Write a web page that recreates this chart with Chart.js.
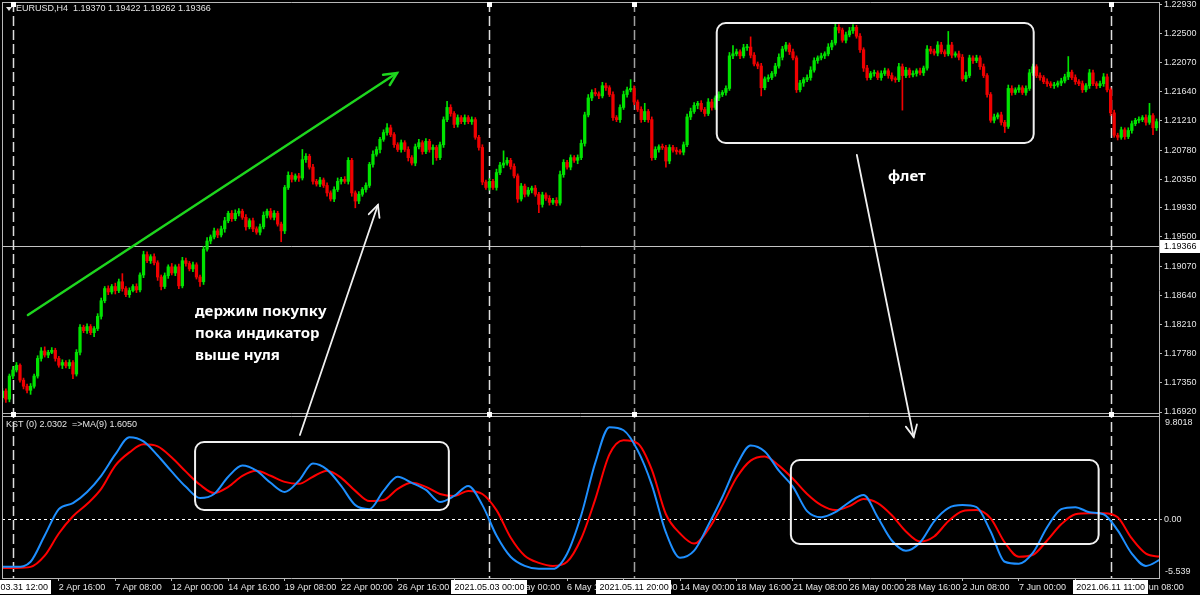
<!DOCTYPE html>
<html>
<head>
<meta charset="utf-8">
<script src="https://cdn.jsdelivr.net/npm/chart.js@4.4.1/dist/chart.umd.min.js"></script>
<style>
  html, body { margin: 0; padding: 0; background: #000; }
  #chart { display: block; }
</style>
</head>
<body>
<canvas id="chart" width="1200" height="595"></canvas>
<script>
// ---- data (EURUSD H4, bar index 0 = 2021.03.31 00:00) ----
var symbolTitle = 'EURUSD,H4  1.19370 1.19422 1.19262 1.19366';
var kstTitle = 'KST (0) 2.0302  =>MA(9) 1.6050';
var bidPrice = 1.19366;
var pip = 0.0001;

var firstOpen = 1.1713;
var closes = [
  1.1723,1.1711,1.1745,1.1754,1.1761,1.1739,1.1730,1.1724,1.1730,1.1745,
  1.1771,1.1782,1.1776,1.1780,1.1783,1.1771,1.1761,1.1765,1.1760,1.1765,
  1.1748,1.1780,1.1817,1.1812,1.1818,1.1809,1.1815,1.1833,1.1856,1.1874,
  1.1869,1.1877,1.1871,1.1884,1.1874,1.1865,1.1871,1.1877,1.1872,1.1894,
  1.1924,1.1915,1.1921,1.1912,1.1891,1.1877,1.1893,1.1906,1.1897,1.1906,
  1.1878,1.1915,1.1911,1.1903,1.1909,1.1891,1.1884,1.1932,1.1944,1.1950,
  1.1959,1.1953,1.1962,1.1974,1.1985,1.1977,1.1985,1.1988,1.1979,1.1965,
  1.1974,1.1962,1.1957,1.1965,1.1982,1.1988,1.1979,1.1985,1.1969,1.1959,
  1.2023,1.2041,1.2035,1.2040,1.2037,1.2064,1.2069,1.2053,1.2032,1.2028,
  1.2034,1.2026,1.2015,1.2006,1.2020,1.2032,1.2035,1.2032,1.2063,1.2015,
  1.2003,1.2013,1.2020,1.2026,1.2057,1.2072,1.2079,1.2094,1.2104,1.2111,
  1.2101,1.2086,1.2079,1.2089,1.2079,1.2067,1.2059,1.2083,1.2089,1.2076,
  1.2091,1.2079,1.2082,1.2067,1.2086,1.2123,1.2141,1.2132,1.2116,1.2126,
  1.2120,1.2126,1.2120,1.2123,1.2097,1.2082,1.2031,1.2023,1.2032,1.2023,
  1.2045,1.2056,1.2059,1.2063,1.2054,1.2040,1.2006,1.2025,1.2013,1.2019,
  1.2022,1.2013,1.1998,1.2012,1.2007,1.2001,1.2004,1.2000,1.2042,1.2060,
  1.2053,1.2067,1.2063,1.2067,1.2088,1.2130,1.2155,1.2163,1.2161,1.2158,
  1.2173,1.2170,1.2160,1.2126,1.2123,1.2141,1.2160,1.2167,1.2169,1.2149,
  1.2138,1.2123,1.2135,1.2123,1.2067,1.2079,1.2083,1.2082,1.2062,1.2082,
  1.2078,1.2076,1.2075,1.2086,1.2127,1.2135,1.2144,1.2147,1.2138,1.2132,
  1.2149,1.2141,1.2155,1.2160,1.2163,1.2169,1.2217,1.2220,1.2223,1.2217,
  1.2229,1.2230,1.2218,1.2205,1.2202,1.2170,1.2183,1.2185,1.2191,1.2202,
  1.2215,1.2227,1.2233,1.2223,1.2214,1.2167,1.2177,1.2182,1.2185,1.2196,
  1.2210,1.2214,1.2217,1.2220,1.2230,1.2236,1.2259,1.2255,1.2240,1.2248,
  1.2254,1.2259,1.2246,1.2226,1.2199,1.2185,1.2191,1.2192,1.2185,1.2191,
  1.2195,1.2188,1.2183,1.2182,1.2201,1.2188,1.2196,1.2189,1.2191,1.2195,
  1.2192,1.2199,1.2227,1.2224,1.2221,1.2233,1.2223,1.2220,1.2233,1.2218,
  1.2220,1.2215,1.2183,1.2188,1.2214,1.2210,1.2214,1.2201,1.2188,1.2160,
  1.2122,1.2127,1.2130,1.2119,1.2113,1.2169,1.2163,1.2167,1.2170,1.2163,
  1.2169,1.2192,1.2201,1.2188,1.2185,1.2179,1.2176,1.2173,1.2174,1.2177,
  1.2180,1.2186,1.2193,1.2185,1.2179,1.2176,1.2167,1.2173,1.2192,1.2176,
  1.2173,1.2176,1.2186,1.2167,1.2133,1.2100,1.2097,1.2108,1.2098,1.2107,
  1.2117,1.2122,1.2123,1.2126,1.2119,1.2129,1.2111,1.2120
];
// upper / lower shadow lengths in pips
var wickUp = [
  4,3,3,5,4,2,3,3,4,3, 4,5,6,3,4,3,3,4,3,4, 3,4,4,3,4,3,3,4,4,3, 4,3,5,4,12,3,4,3,4,3,
  5,4,3,4,3,3,4,3,5,3, 4,5,4,3,4,3,3,4,5,3, 4,3,4,5,3,4,5,4,3,4, 3,4,3,4,5,3,4,4,3,3,
  3,5,4,3,4,15,4,3,4,3, 4,3,4,3,4,5,3,4,4,3, 3,4,3,4,3,5,4,3,4,6, 4,3,3,4,3,4,3,4,5,3,
  4,3,4,3,4,4,9,4,3,4, 3,4,3,4,3,3,4,3,4,3, 5,4,18,4,3,4,3,4,3,4, 3,4,3,4,3,4,3,4,5,4,
  3,4,3,4,5,4,5,4,6,3, 5,4,3,4,3,4,5,4,13,4, 3,4,12,3,4,4,3,4,3,4, 3,4,3,4,4,5,4,3,4,3,
  5,4,3,4,3,4,5,12,4,3, 5,4,15,4,3,4,3,4,3,4, 5,4,4,3,4,3,4,3,4,5, 4,3,4,3,5,4,5,4,3,4,
  5,4,3,4,3,4,3,4,3,4, 4,3,4,3,5,4,4,3,4,3, 4,3,5,4,3,5,4,3,20,4, 3,4,4,5,4,3,4,3,4,3,
  3,4,3,4,3,5,4,3,4,3, 4,5,4,3,4,3,4,3,4,3, 4,4,23,3,4,3,4,3,5,4, 3,4,5,4,3,4,3,4,3,4,
  4,3,4,3,4,18,3,4
];
var wickDn = [
  6,5,4,4,3,3,4,4,6,3, 3,4,3,4,2,4,3,5,3,4, 7,3,4,3,4,3,6,3,4,3, 4,3,5,3,4,3,4,2,4,3,
  4,3,4,3,5,5,3,4,3,4, 4,3,4,3,4,3,7,4,3,4, 3,4,3,5,3,4,3,4,3,5, 3,4,3,4,3,4,3,4,3,16,
  4,3,4,3,5,3,4,3,4,3, 4,3,5,3,4,3,4,3,4,5, 10,4,3,4,3,4,3,5,3,4, 3,4,3,4,3,5,3,4,3,4,
  3,4,22,4,3,4,3,4,5,4, 3,4,3,4,3,4,4,3,4,3, 4,3,4,3,4,3,5,3,4,3, 4,3,12,4,3,4,3,4,3,4,
  3,4,3,5,3,4,3,4,3,4, 3,4,3,4,3,4,3,4,3,4, 3,4,3,4,4,3,4,3,9,4, 3,4,3,4,3,4,3,5,3,4,
  3,4,3,4,3,4,3,4,3,4, 3,4,4,3,4,12,3,4,3,4, 3,4,3,4,3,4,3,5,3,4, 3,4,3,4,3,4,3,4,3,4,
  3,4,3,4,5,4,3,4,3,4, 3,4,3,4,3,51,3,4,3,4, 3,4,3,4,3,4,3,4,3,4, 3,4,3,4,3,4,3,4,3,4,
  3,4,3,4,9,3,4,3,4,3, 4,3,4,3,4,3,4,3,4,3, 4,3,4,3,4,3,4,3,4,3, 4,3,4,3,4,3,4,3,4,3,
  4,3,4,3,4,3,10,4
];

// KST and its MA(9), read every 4th bar
var kstStep = 4;
var kstValues = [
  -4.49,-4.49,-4.01,-1.54,0.94,1.51,2.56,4.08,6.09,7.71,
  7.32,5.99,4.47,3.04,1.99,2.37,3.99,5.04,4.56,3.42,
  2.56,3.61,5.23,4.66,3.13,1.32,0.94,2.66,3.99,3.42,
  2.75,1.61,2.18,3.13,1.32,-1.54,-3.54,-4.40,-4.68,-4.68,
  -3.25,0.37,5.32,8.66,8.37,6.47,3.23,-1.25,-3.63,-2.97,
  -0.58,2.08,5.04,6.94,6.37,4.56,3.04,0.75,0.18,0.65,
  1.61,2.27,0.18,-2.01,-2.97,-2.20,-0.20,1.04,1.32,1.13,
  -1.16,-4.01,-4.20,-3.16,-0.77,0.94,1.13,0.65,0.46,-1.06,
  -3.25,-4.40,-3.82
];
var maValues = [
  -4.59,-4.59,-4.49,-3.44,-1.35,0.27,1.42,2.85,5.04,6.28,
  7.04,6.85,5.80,4.47,3.23,2.46,3.04,4.08,4.56,4.08,
  3.51,3.32,3.99,4.56,3.89,2.66,1.70,1.80,2.85,3.42,
  3.04,2.37,2.18,2.66,2.37,0.85,-1.73,-3.44,-4.11,-4.40,
  -4.01,-1.82,1.89,6.09,7.42,7.13,4.66,0.46,-1.35,-2.30,
  -0.97,1.32,3.89,5.51,5.90,5.04,3.80,2.37,1.32,0.85,
  1.23,1.89,1.51,0.37,-1.16,-2.11,-1.63,-0.20,0.75,0.85,
  0.08,-2.20,-3.54,-3.35,-2.01,-0.49,0.46,0.56,0.56,0.18,
  -1.82,-3.25,-3.54
];

// axes
var priceTicks = [1.2293,1.2250,1.2207,1.2164,1.2121,1.2078,1.2035,1.1993,1.1950,1.1907,1.1864,1.1821,1.1778,1.1735,1.1692];
var priceMin = 1.16876, priceMax = 1.22964;
var kstMin = -5.539, kstMax = 9.8018;
var kstMinLabel = '-5.539', kstMaxLabel = '9.8018';
var xTickBars = [16,32,48,64,80,96,112,128,144,160,176,192,208,224,240,256,272,288,304,320];
var xTickLabels = ['2 Apr 16:00','7 Apr 08:00','12 Apr 00:00','14 Apr 16:00','19 Apr 08:00','22 Apr 00:00',
  '26 Apr 16:00','29 Apr 08:00','4 May 00:00','6 May 16:00','11 May 08:00','14 May 00:00','18 May 16:00',
  '21 May 08:00','26 May 00:00','28 May 16:00','2 Jun 08:00','7 Jun 00:00','9 Jun 16:00','14 Jun 08:00'];
var markerBars = [3, 138, 179, 314];
var markerLabels = ['2021.03.31 12:00','2021.05.03 00:00','2021.05.11 20:00','2021.06.11 11:00'];

// hand drawn notes (bar index / price or KST value)
var trendArrow = { b0: 7.25, p0: 1.1835, b1: 111.8, p1: 1.21917 };
var flatBox = { b0: 202.4, b1: 292.2, p0: 1.22654, p1: 1.20886 };
var kstBoxLeft = { b0: 54.6, b1: 126.5, v0: 7.26, v1: 0.86 };
var kstBoxRight = { b0: 223.4, b1: 310.6, v0: 5.57, v1: -2.34 };
var holdArrow = { b0: 84.3, v0: 7.92, b1: 106.4, p1: 1.19972 };
var flatArrow = { b0: 242.1, p0: 1.20709, b1: 258.2, v1: 7.73 };
var holdText = ['держим покупку', 'пока индикатор', 'выше нуля'];
var holdTextPos = { b: 54.6, p: 1.18395 };
var flatText = 'флет';
var flatTextPos = { b: 250.9, p: 1.20384 };

// ---- colours ----
var UP = '#00e400', DOWN = '#f00000';
var FRAME = '#b8b8b8', TXT = '#e4e4e4';
var axisFont = { family: '"Liberation Sans", Arial, sans-serif', size: 9 };

var opens = closes.map(function(c, i){ return i === 0 ? firstOpen : closes[i - 1]; });
var highs = closes.map(function(c, i){ return Math.max(opens[i], c) + wickUp[i] * pip; });
var lows = closes.map(function(c, i){ return Math.min(opens[i], c) - wickDn[i] * pip; });
var candleColors = closes.map(function(c, i){ return c >= opens[i] ? UP : DOWN; });

var bodyData = closes.map(function(c, i){ return { x: i, y: [opens[i], c] }; });
var wickData = closes.map(function(c, i){ return { x: i, y: [lows[i], highs[i]] }; });
var kstData = kstValues.map(function(v, k){ return { x: k * kstStep, y: v }; });
var maData = maValues.map(function(v, k){ return { x: k * kstStep, y: v }; });

function arrowHead(c, x0, y0, x1, y1, len){
  var a = Math.atan2(y1 - y0, x1 - x0), s = 0.45;
  c.beginPath();
  c.moveTo(x1 - len * Math.cos(a - s), y1 - len * Math.sin(a - s));
  c.lineTo(x1, y1);
  c.lineTo(x1 - len * Math.cos(a + s), y1 - len * Math.sin(a + s));
  c.stroke();
}

var decor = {
  id: 'decor',
  beforeDraw: function(chart){
    var c = chart.ctx;
    c.save();
    c.fillStyle = '#000';
    c.fillRect(0, 0, chart.width, chart.height);
    c.restore();
  },
  beforeDatasetsDraw: function(chart){
    var c = chart.ctx, xs = chart.scales.x, ys = chart.scales.y, ks = chart.scales.y2;
    c.save();
    c.lineWidth = 1;
    var by = Math.round(ys.getPixelForValue(bidPrice)) + 0.5;
    c.strokeStyle = '#c4c4c4';
    c.beginPath(); c.moveTo(xs.left, by); c.lineTo(xs.right, by); c.stroke();

    var zy = Math.round(ks.getPixelForValue(0)) + 0.5;
    c.setLineDash([3, 3]);
    c.strokeStyle = '#ffffff';
    c.beginPath(); c.moveTo(xs.left, zy); c.lineTo(xs.right, zy); c.stroke();

    c.setLineDash([10, 4]);
    c.lineWidth = 1.5;
    markerBars.forEach(function(b, i){
      var x = Math.round(xs.getPixelForValue(b)) + 0.5;
      c.strokeStyle = i === 2 ? '#a0a0a0' : '#dedede';
      c.beginPath(); c.moveTo(x, ys.top); c.lineTo(x, ks.bottom); c.stroke();
    });
    c.restore();
  },
  afterDraw: function(chart){
    var c = chart.ctx, xs = chart.scales.x, ys = chart.scales.y, ks = chart.scales.y2;
    function X(b){ return xs.getPixelForValue(b); }
    function P(p){ return ys.getPixelForValue(p); }
    function K(v){ return ks.getPixelForValue(v); }
    c.save();

    // frame
    c.strokeStyle = FRAME; c.lineWidth = 1; c.setLineDash([]);
    c.beginPath();
    c.moveTo(xs.left + 0.5, ys.top + 0.5); c.lineTo(xs.right + 0.5, ys.top + 0.5);
    c.moveTo(xs.left + 0.5, ys.top); c.lineTo(xs.left + 0.5, ks.bottom);
    c.moveTo(xs.right + 0.5, ys.top); c.lineTo(xs.right + 0.5, ks.bottom + 1);
    c.moveTo(xs.left, ks.bottom + 0.5); c.lineTo(xs.right + 1, ks.bottom + 0.5);
    c.moveTo(xs.left, ys.bottom - 1.5); c.lineTo(xs.right, ys.bottom - 1.5);
    c.moveTo(xs.left, ys.bottom + 1.5); c.lineTo(xs.right, ys.bottom + 1.5);
    c.stroke();

    // small anchors on the separators
    c.fillStyle = '#ffffff';
    markerBars.forEach(function(b){
      var x = Math.round(X(b));
      c.fillRect(x - 2, ys.top, 5, 5);
      c.fillRect(x - 2, ys.bottom - 3, 5, 5);
    });

    // titles
    c.font = '9px "Liberation Sans", Arial, sans-serif';
    c.textBaseline = 'middle'; c.textAlign = 'left';
    c.fillStyle = TXT;
    c.beginPath(); c.moveTo(6, 7); c.lineTo(12, 7); c.lineTo(9, 11); c.closePath(); c.fill();
    c.fillText(symbolTitle, 16, 9);
    c.fillText(kstTitle, 6, ks.top + 10);

    // KST scale extremes
    c.fillText(kstMaxLabel, xs.right + 6, ks.top + 8);
    c.fillText(kstMinLabel, xs.right + 6, ks.bottom - 6);

    // bid price box
    var by = Math.round(P(bidPrice));
    c.fillStyle = '#ffffff';
    c.fillRect(xs.right + 1, by - 6, 40, 13);
    c.fillStyle = '#000000';
    c.fillText(bidPrice.toFixed(5), xs.right + 5, by + 0.5);

    // time markers on the axis
    c.textAlign = 'center';
    markerBars.forEach(function(b, i){
      var x = X(b), w = c.measureText(markerLabels[i]).width + 6;
      c.fillStyle = '#ffffff';
      c.fillRect(Math.round(x - w / 2), ks.bottom + 2, Math.round(w), 14);
      c.fillStyle = '#000000';
      c.fillText(markerLabels[i], x, ks.bottom + 9.5);
    });

    // green trend arrow
    c.strokeStyle = '#1ed61e'; c.lineWidth = 2.5; c.lineCap = 'round';
    var gx0 = X(trendArrow.b0), gy0 = P(trendArrow.p0), gx1 = X(trendArrow.b1), gy1 = P(trendArrow.p1);
    c.beginPath(); c.moveTo(gx0, gy0); c.lineTo(gx1, gy1); c.stroke();
    arrowHead(c, gx0, gy0, gx1, gy1, 14);

    // white boxes
    c.strokeStyle = '#f0f0f0'; c.lineWidth = 2;
    [[flatBox.b0, P(flatBox.p0), flatBox.b1, P(flatBox.p1)],
     [kstBoxLeft.b0, K(kstBoxLeft.v0), kstBoxLeft.b1, K(kstBoxLeft.v1)],
     [kstBoxRight.b0, K(kstBoxRight.v0), kstBoxRight.b1, K(kstBoxRight.v1)]].forEach(function(r){
      var x0 = X(r[0]), x1 = X(r[2]);
      c.beginPath(); c.roundRect(x0, r[1], x1 - x0, r[3] - r[1], 9); c.stroke();
    });

    // white arrows
    c.lineWidth = 1.8;
    var ax0 = X(holdArrow.b0), ay0 = K(holdArrow.v0), ax1 = X(holdArrow.b1), ay1 = P(holdArrow.p1);
    c.beginPath(); c.moveTo(ax0, ay0); c.lineTo(ax1, ay1); c.stroke();
    arrowHead(c, ax0, ay0, ax1, ay1, 13);
    var fx0 = X(flatArrow.b0), fy0 = P(flatArrow.p0), fx1 = X(flatArrow.b1), fy1 = K(flatArrow.v1);
    c.beginPath(); c.moveTo(fx0, fy0); c.lineTo(fx1, fy1); c.stroke();
    arrowHead(c, fx0, fy0, fx1, fy1, 13);

    // notes
    c.fillStyle = '#ffffff';
    c.textAlign = 'left';
    c.font = 'bold 15px "Noto Sans", sans-serif';
    holdText.forEach(function(t, i){
      c.fillText(t, X(holdTextPos.b), P(holdTextPos.p) + i * 22);
    });
    c.fillText(flatText, X(flatTextPos.b), P(flatTextPos.p));
    c.restore();
  }
};

new Chart(document.getElementById('chart'), {
  type: 'bar',
  data: {
    datasets: [
      { label: 'wick', data: wickData, xAxisID: 'x', yAxisID: 'y', grouped: false, order: 3,
        backgroundColor: candleColors, borderWidth: 0, barThickness: 1 },
      { label: 'body', data: bodyData, xAxisID: 'x', yAxisID: 'y', grouped: false, order: 2,
        backgroundColor: candleColors, borderWidth: 0, barThickness: 2.6, minBarLength: 1 },
      { type: 'line', label: 'MA(9)', data: maData, xAxisID: 'x', yAxisID: 'y2', order: 1,
        borderColor: '#ff0000', borderWidth: 2, pointRadius: 0, cubicInterpolationMode: 'monotone' },
      { type: 'line', label: 'KST', data: kstData, xAxisID: 'x', yAxisID: 'y2', order: 0,
        borderColor: '#1e8fff', borderWidth: 2, pointRadius: 0, cubicInterpolationMode: 'monotone' }
    ]
  },
  options: {
    responsive: false,
    animation: false,
    layout: { padding: { top: 2, left: 2, right: 0, bottom: 0 } },
    plugins: { legend: { display: false }, tooltip: { enabled: false } },
    scales: {
      x: {
        type: 'linear', position: 'bottom', min: -0.1, max: 327.7, offset: false,
        afterBuildTicks: function(s){ s.ticks = xTickBars.map(function(v){ return { value: v }; }); },
        afterFit: function(s){ s.height = 17; s.paddingLeft = 0; s.paddingRight = 0; },
        ticks: { autoSkip: false, maxRotation: 0, align: 'start', color: TXT, font: axisFont, padding: 1,
          callback: function(v, i){ return xTickLabels[i]; } },
        grid: { offset: false, drawOnChartArea: false, drawTicks: true, tickLength: 3, color: FRAME },
        border: { display: false }
      },
      y: {
        type: 'linear', position: 'right', stack: 'pane', stackWeight: 413, min: priceMin, max: priceMax,
        afterBuildTicks: function(s){ s.ticks = priceTicks.map(function(v){ return { value: v }; }); },
        afterFit: function(s){ s.width = 41; s.paddingTop = 0; s.paddingBottom = 0; },
        ticks: { color: TXT, font: axisFont, padding: 2, callback: function(v){ return v.toFixed(5); } },
        grid: { drawOnChartArea: false, drawTicks: true, tickLength: 3, color: FRAME },
        border: { display: false }
      },
      y2: {
        type: 'linear', position: 'right', stack: 'pane', stackWeight: 163, min: kstMin, max: kstMax,
        afterBuildTicks: function(s){ s.ticks = [{ value: 0 }]; },
        afterFit: function(s){ s.width = 41; s.paddingTop = 0; s.paddingBottom = 0; },
        ticks: { color: TXT, font: axisFont, padding: 2, callback: function(v){ return v.toFixed(2); } },
        grid: { drawOnChartArea: false, drawTicks: true, tickLength: 3, color: FRAME },
        border: { display: false }
      }
    }
  },
  plugins: [decor]
});
</script>
</body>
</html>
